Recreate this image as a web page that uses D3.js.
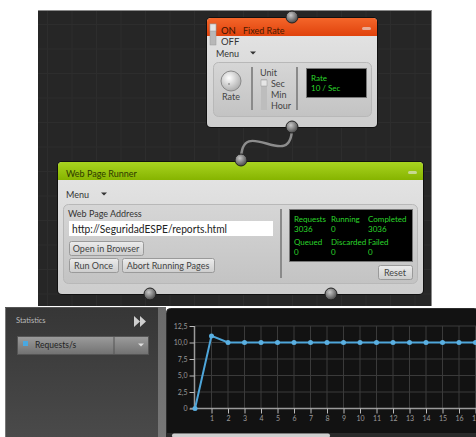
<!DOCTYPE html>
<html><head><meta charset="utf-8">
<script src="https://cdn.jsdelivr.net/npm/d3@7"></script>
<style>html,body{margin:0;padding:0;background:#fff;overflow:hidden}svg{display:block}text{font-family:Lato,"Noto Sans",sans-serif}</style>
</head><body>
<script>
// ---- data ----
const seconds = [0,1,2,3,4,5,6,7,8,9,10,11,12,13,14,15,16,17,18];
const requestsPerSec = [0,11,10,10,10,10,10,10,10,10,10,10,10,10,10,10,10,10,10];
const xTickValues = [1,2,3,4,5,6,7,8,9,10,11,12,13,14,15,16,17];
const yTickValues = [0,2.5,5,7.5,10,12.5];
const yTickLabels = ["0","2,5","5,0","7,5","10,0","12,5"];
const seriesName = "Requests/s";
const statsLabels = [["Requests","3036"],["Running","0"],["Completed","3036"],["Queued","0"],["Discarded","0"],["Failed","0"]];
const unitOptions = ["Sec","Min","Hour"];
const rateDisplay = ["Rate","10 / Sec"];
const pageAddress = "http://SeguridadESPE/reports.html";

const W=476,H=437;
const svg=d3.select("body").append("svg").attr("width",W).attr("height",H);
const defs=svg.append("defs");
function lin(id,stops){const g=defs.append("linearGradient").attr("id",id).attr("x1",0).attr("y1",0).attr("x2",0).attr("y2",1);
 stops.forEach(s=>g.append("stop").attr("offset",s[0]).attr("stop-color",s[1]));}
lin("gBody",[[0,"#e6e6e6"],[1,"#cdcdcd"]]);
lin("gInner",[[0,"#d6d6d6"],[1,"#c3c3c3"]]);
lin("gOrange",[[0,"#f4662a"],[1,"#e0420c"]]);
lin("gGreen",[[0,"#a9d420"],[1,"#86b400"]]);
lin("gBtn",[[0,"#ececec"],[1,"#cdcdcd"]]);
lin("gLeft",[[0,"#363636"],[1,"#4a4a4a"]]);
lin("gDrop",[[0,"#9c9c9c"],[1,"#717171"]]);
lin("gSep",[[0,"#6a6a6a"],[1,"#777"]]);
const rg=defs.append("radialGradient").attr("id","gConn").attr("cx","40%").attr("cy","35%").attr("r","65%");
rg.append("stop").attr("offset",0).attr("stop-color","#c8c8c8");rg.append("stop").attr("offset",1).attr("stop-color","#4a4a4a");
const rk=defs.append("radialGradient").attr("id","gKnob").attr("cx","40%").attr("cy","35%").attr("r","70%");
rk.append("stop").attr("offset",0).attr("stop-color","#ffffff");rk.append("stop").attr("offset",1).attr("stop-color","#a8a8a8");

// ---- top canvas ----
svg.append("rect").attr("x",38).attr("y",10).attr("width",394).attr("height",296).attr("fill","#262626");
const bg=svg.append("g").attr("stroke","#2d2d2d").attr("stroke-width",1);
d3.range(47.5,432,24.5).forEach(x=>bg.append("line").attr("x1",x).attr("x2",x).attr("y1",11).attr("y2",306));
d3.range(24.5,306,24.5).forEach(y=>bg.append("line").attr("x1",38).attr("x2",432).attr("y1",y).attr("y2",y));
svg.append("line").attr("x1",38).attr("x2",432).attr("y1",10.5).attr("y2",10.5).attr("stroke","#8a8a8a");
svg.append("line").attr("x1",431.5).attr("x2",431.5).attr("y1",10).attr("y2",306).attr("stroke","#8a8a8a");

function txt(g,x,y,s,o={}){return g.append("text").attr("x",x).attr("y",y).text(s)
 .attr("font-size",o.size||9).attr("fill",o.fill||"#333").attr("text-anchor",o.anchor||"start").attr("font-weight",o.weight||"normal");}
function tri(g,cx,cy,w,fill){g.append("path").attr("d",`M${cx-w/2},${cy-w/4}L${cx+w/2},${cy-w/4}L${cx},${cy+w/4}Z`).attr("fill",fill);}
function button(g,x,y,w,h,label){g.append("rect").attr("x",x+.5).attr("y",y+.5).attr("width",w).attr("height",h).attr("rx",2)
 .attr("fill","url(#gBtn)").attr("stroke","#9a9a9a");txt(g,x+w/2,y+h/2+3.5,label,{anchor:"middle",size:9,fill:"#444"});}
function node(x,y,w,h,hdr){const g=svg.append("g");
 g.append("rect").attr("x",x-1).attr("y",y-1).attr("width",w+2).attr("height",h+2).attr("rx",5).attr("fill","#111");
 g.append("rect").attr("x",x).attr("y",y).attr("width",w).attr("height",h).attr("rx",4).attr("fill","url(#gBody)");
 g.append("path").attr("d",`M${x},${y+18}V${y+4}Q${x},${y} ${x+4},${y}H${x+w-4}Q${x+w},${y} ${x+w},${y+4}V${y+18}Z`).attr("fill",hdr);
 g.append("rect").attr("x",x+w-15).attr("y",y+9).attr("width",9).attr("height",3).attr("rx",1.5).attr("fill","#e8e8e8").attr("opacity",0.6);
 return g;}

// connector curve
svg.append("path").attr("d","M292,127 C292,175 241,112 241,160").attr("fill","none").attr("stroke","#8c8c8c").attr("stroke-width",2.5);

// Fixed Rate node
const fr=node(207,18,170,109,"url(#gOrange)");
fr.append("rect").attr("x",210).attr("y",24).attr("width",6).attr("height",21).attr("fill","#b8b8b8").attr("stroke","#999").attr("stroke-width",.5);
fr.append("rect").attr("x",210).attr("y",24).attr("width",6).attr("height",7).attr("fill","#e4e4e4").attr("stroke","#999").attr("stroke-width",.5);
txt(fr,221,34,"ON",{size:9.5,fill:"#3a1200"});
txt(fr,243,34,"Fixed Rate",{size:9,fill:"#4a1a00"});
txt(fr,221,45,"OFF",{size:9.5,fill:"#333"});
txt(fr,216,57,"Menu",{size:9,fill:"#333"});
tri(fr,253,53,6,"#333");
fr.append("rect").attr("x",213.5).attr("y",62.5).attr("width",158).attr("height",54).attr("rx",5).attr("fill","url(#gInner)").attr("stroke","#b8b8b8");
fr.append("circle").attr("cx",231).attr("cy",81).attr("r",10).attr("fill","url(#gKnob)").attr("stroke","#8a8a8a");
fr.append("circle").attr("cx",229).attr("cy",84).attr("r",1).attr("fill","#999");
txt(fr,231,100,"Rate",{anchor:"middle",size:9,fill:"#444"});
fr.append("line").attr("x1",252).attr("x2",252).attr("y1",67).attr("y2",110).attr("stroke","#8a8a8a").attr("stroke-width",2);
txt(fr,260,76,"Unit",{size:9,fill:"#444"});
fr.append("rect").attr("x",261).attr("y",79).attr("width",6).attr("height",31).attr("fill","#bdbdbd");
fr.append("rect").attr("x",261).attr("y",80).attr("width",6).attr("height",6).attr("fill","#e6e6e6").attr("stroke","#999").attr("stroke-width",.5);
unitOptions.forEach((u,i)=>txt(fr,271,87+i*11,u,{size:9,fill:"#444"}));
fr.append("line").attr("x1",297).attr("x2",297).attr("y1",67).attr("y2",110).attr("stroke","#8a8a8a").attr("stroke-width",2);
fr.append("rect").attr("x",306.5).attr("y",68.5).attr("width",60).attr("height",29).attr("fill","#000").attr("stroke","#777");
rateDisplay.forEach((s,i)=>txt(fr,311,81+i*10,s,{size:8,fill:"#2bd62b"}));

// Web Page Runner node
const wp=node(58,162,365,132,"url(#gGreen)");
txt(wp,66,177,"Web Page Runner",{size:9,fill:"#2e3a00"});
txt(wp,66,198,"Menu",{size:9,fill:"#333"});
tri(wp,104,194,6,"#333");
wp.append("rect").attr("x",63.5).attr("y",204.5).attr("width",354).attr("height",79).attr("rx",5).attr("fill","url(#gInner)").attr("stroke","#b8b8b8");
txt(wp,68,217,"Web Page Address",{size:9,fill:"#333"});
wp.append("rect").attr("x",69).attr("y",221).attr("width",204).attr("height",15).attr("fill","#fff");
txt(wp,72,233,pageAddress,{size:11,fill:"#222"}).attr("textLength",155).attr("lengthAdjust","spacingAndGlyphs");
button(wp,69,241,74,14,"Open in Browser");
button(wp,69,258,49,14,"Run Once");
button(wp,122,258,92,14,"Abort Running Pages");
wp.append("line").attr("x1",281).attr("x2",281).attr("y1",209).attr("y2",278).attr("stroke","#8a8a8a").attr("stroke-width",2);
wp.append("rect").attr("x",289.5).attr("y",209.5).attr("width",123).attr("height",52).attr("fill","#000").attr("stroke","#777");
statsLabels.forEach((d,i)=>{const cx=294+(i%3)*37, by=i<3?222:245;
 txt(wp,cx,by,d[0],{size:8,fill:"#2bd62b"});txt(wp,cx,by+10,d[1],{size:8,fill:"#2bd62b"});});
button(wp,378,265,34,14,"Reset");

// connectors
[[292,17],[292,127],[241,160],[150,294],[331,294]].forEach(c=>svg.append("circle").attr("cx",c[0]).attr("cy",c[1]).attr("r",6)
 .attr("fill","url(#gConn)").attr("stroke","#222").attr("stroke-width",1));

// ---- bottom: statistics panel ----
svg.append("rect").attr("x",5).attr("y",307).attr("width",153).attr("height",130).attr("fill","url(#gLeft)");
svg.append("line").attr("x1",5.5).attr("x2",5.5).attr("y1",307).attr("y2",437).attr("stroke","#777");
svg.append("line").attr("x1",5).attr("x2",158).attr("y1",307.5).attr("y2",307.5).attr("stroke","#555");
txt(svg,16,323,"Statistics",{size:7.5,fill:"#bbb"});
svg.append("path").attr("d","M134,316L140,321.5L134,327Z M140,316L146,321.5L140,327Z").attr("fill","#cfcfcf");
svg.append("rect").attr("x",17.5).attr("y",336.5).attr("width",131).attr("height",18).attr("fill","url(#gDrop)").attr("stroke","#555");
svg.append("line").attr("x1",114).attr("x2",114).attr("y1",337).attr("y2",354).attr("stroke","#555");
svg.append("rect").attr("x",23).attr("y",341).attr("width",5).attr("height",5).attr("fill","#4aa8e0");
txt(svg,35,348,seriesName,{size:8.5,fill:"#222"});
tri(svg,141,345,6,"#e0e0e0");
svg.append("rect").attr("x",158).attr("y",307).attr("width",8).attr("height",130).attr("fill","url(#gSep)");

// ---- chart panel ----
svg.append("rect").attr("x",166.5).attr("y",308.5).attr("width",312).attr("height",132).attr("rx",4).attr("fill","#121212").attr("stroke","#2c2c2c");
const clip=defs.append("clipPath").attr("id","cp");clip.append("rect").attr("x",167).attr("y",309).attr("width",309).attr("height",128);
const cg=svg.append("g").attr("clip-path","url(#cp)");

const x=d3.scaleLinear().domain([0,18]).range([195,195+18*16.5]);
const y=d3.scaleLinear().domain([0,12.5]).range([408.5,326]);

// grid
cg.append("g").selectAll("line").data(xTickValues).join("line")
 .attr("x1",d=>x(d)).attr("x2",d=>x(d)).attr("y1",y(12.5)).attr("y2",y(0)).attr("stroke","#3a3a3a");
cg.append("g").selectAll("line").data(yTickValues.slice(1)).join("line")
 .attr("x1",x(0)).attr("x2",W).attr("y1",d=>y(d)).attr("y2",d=>y(d)).attr("stroke","#3a3a3a");

// axes
const yAxis=d3.axisLeft(y).tickValues(yTickValues).tickFormat((d,i)=>yTickLabels[i]).tickSize(5).tickPadding(2);
const ya=cg.append("g").attr("transform",`translate(${x(0)-0.5},0)`).call(yAxis);
const xAxis=d3.axisBottom(x).tickValues(xTickValues).tickFormat(d3.format("d")).tickSize(5).tickPadding(3);
const xa=cg.append("g").attr("transform",`translate(0,${y(0)})`).call(xAxis);
[ya,xa].forEach(a=>{a.select(".domain").attr("stroke","#9a9a9a").attr("stroke-width",1.5);
 a.selectAll(".tick line").attr("stroke","#bbb");
 a.selectAll("text").attr("fill","#9a9a9a").attr("font-size",7).attr("font-family","Lato,sans-serif");});
xa.select(".domain").attr("d",`M${x(0)-5},0H${W}`);
ya.select(".domain").attr("d",`M0,${y(12.5)}V${y(0)}`);

// series
const pts=seconds.map((s,i)=>[s,requestsPerSec[i]]);
cg.append("path").datum(pts).attr("d",d3.line().x(d=>x(d[0])).y(d=>y(d[1])))
 .attr("fill","none").attr("stroke","#4ea6da").attr("stroke-width",2);
cg.append("g").selectAll("circle").data(pts).join("circle").attr("cx",d=>x(d[0])).attr("cy",d=>y(d[1])).attr("r",2.5).attr("fill","#5ab0e2");

// bottom scrollbar
svg.append("rect").attr("x",166).attr("y",433).attr("width",310).attr("height",4).attr("fill","#2a2a2a");
svg.append("rect").attr("x",172).attr("y",433.5).attr("width",158).attr("height",4).attr("rx",2).attr("fill","#cfcfcf");
</script>
</body></html>
